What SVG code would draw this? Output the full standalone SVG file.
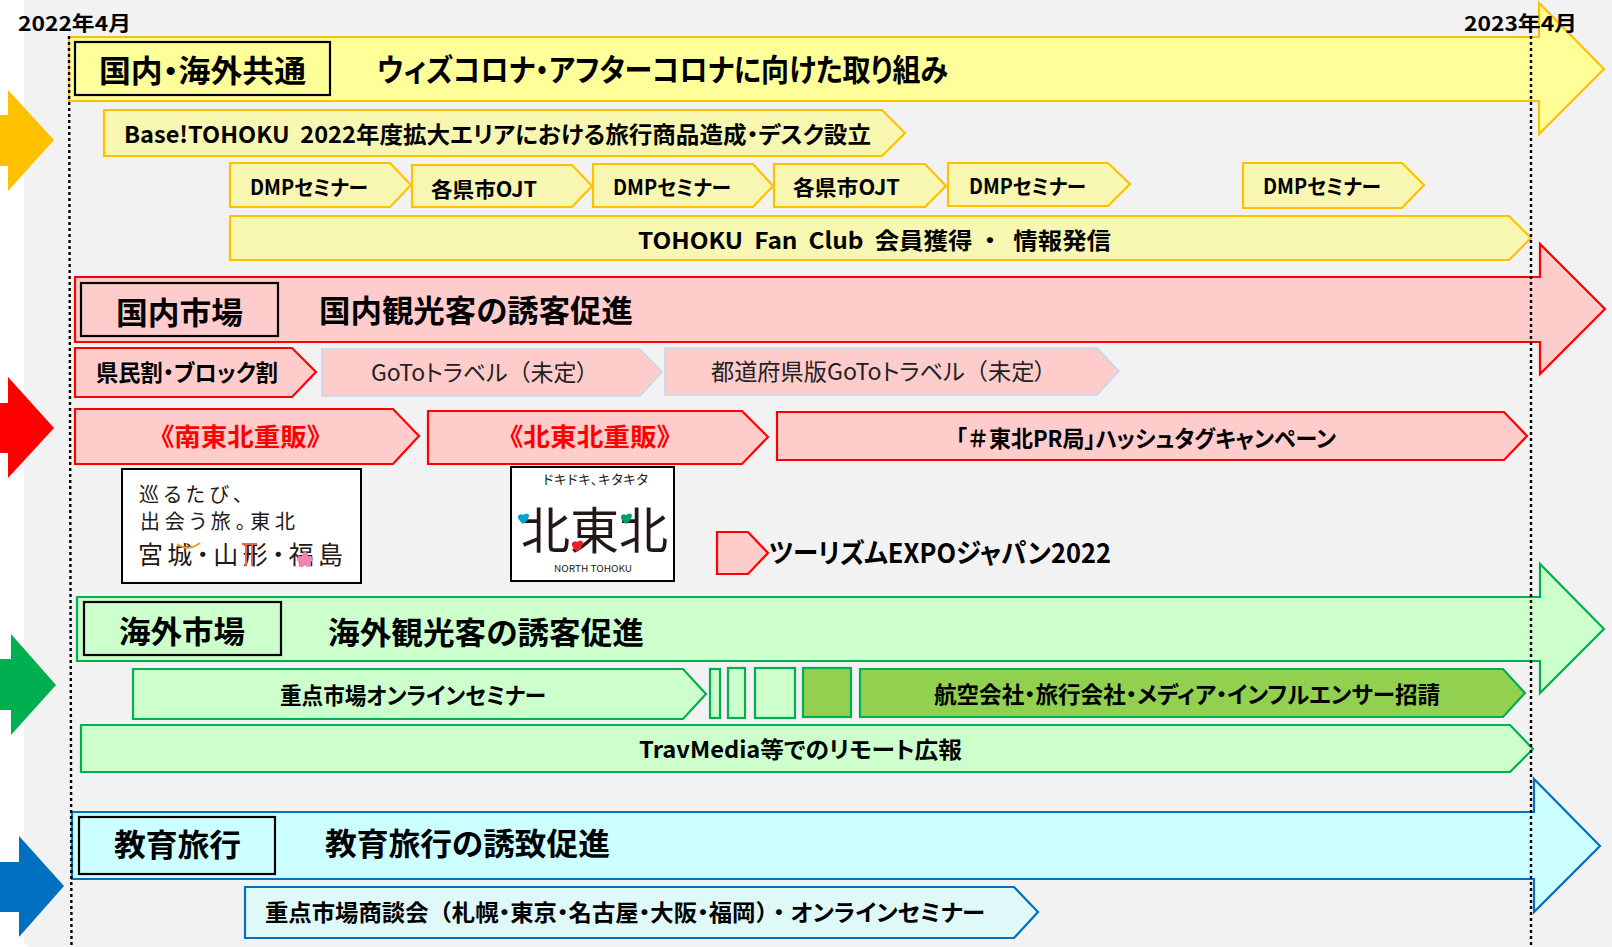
<svg xmlns="http://www.w3.org/2000/svg" width="1612" height="947" viewBox="0 0 1612 947">
<style>
text{font-family:"Noto Sans CJK JP","Noto Sans",sans-serif;fill:#000;font-weight:700;font-feature-settings:"palt"}
.fw{font-feature-settings:normal}
.h1{font-size:31px}.h2{font-size:23px}.h3{font-size:21px}.n{font-weight:400;fill:#222}
.r{fill:#f00;font-size:25px}
.y{fill:#ffff99;stroke:#ffc000;stroke-width:2.2}
.ys{fill:#f7f7b2;stroke:#ffc000;stroke-width:2.2}
.rd{fill:#ffcccc;stroke:#f00;stroke-width:2.2}
.rl{fill:#ffcccc;stroke:#c3d8ee;stroke-width:1.6}
.g{fill:#ccffcc;stroke:#00b050;stroke-width:2.2}
.gd{fill:#92d050;stroke:#00b050;stroke-width:2.2}
.b{fill:#ccffff;stroke:#0070c0;stroke-width:2.2}
.bs{fill:#dff9f9;stroke:#0070c0;stroke-width:2.2}
.lb{fill:none;stroke:#000;stroke-width:2.2}
.logo{fill:#fff;stroke:#000;stroke-width:2}
.lt{font-weight:400;fill:#231815}
.dot{fill:none;stroke:#000;stroke-width:2.4;stroke-dasharray:3 3}
</style>
<rect width="1612" height="947" fill="#fff"/>
<path d="M24 0H1612V947H32Q24 947 24 939Z" fill="#f2f2f2"/>

<g id="side-arrows">
<polygon points="0,115 8,115 8,90 54,140 8,191 8,166 0,166" fill="#ffc000"/>
<polygon points="0,403 8,403 8,377 54,428 8,478 8,453 0,453" fill="#f00"/>
<polygon points="0,659 11,659 11,634 56,685 11,735 11,710 0,710" fill="#00b050"/>
<polygon points="0,862 19,862 19,836 64,886 19,937 19,912 0,912" fill="#0070c0"/>
</g>

<g id="common">
<g id="common-main"><polygon class="y" points="69,37 1539,37 1539,3 1604,69 1539,134 1539,101 69,101"/>
<rect class="lb" x="75" y="42" width="255" height="53"/>
<text class="h1" x="99" y="82" textLength="207" lengthAdjust="spacingAndGlyphs">国内・海外共通</text>
<text class="h1" x="377" y="81" textLength="571" lengthAdjust="spacingAndGlyphs">ウィズコロナ・アフターコロナに向けた取り組み</text></g>
<g id="base"><polygon class="ys" points="104,110 882,110 905,133 882,156 104,156"/>
<text class="h2" x="124" y="143" textLength="747" lengthAdjust="spacingAndGlyphs">Base!TOHOKU&#160;&#160;2022年度拡大エリアにおける旅行商品造成・デスク設立</text></g>
<g id="dmp1"><polygon class="ys" points="230,163 390,163 411,185 390,207 230,207"/><text class="h3" x="250" y="195" textLength="118" lengthAdjust="spacingAndGlyphs">DMPセミナー</text></g>
<g id="ojt1"><polygon class="ys" points="412,165 572,165 592,186 572,207 412,207"/><text class="h3" x="431" y="197" textLength="106" lengthAdjust="spacingAndGlyphs">各県市OJT</text></g>
<g id="dmp2"><polygon class="ys" points="593,164 753,164 773,186 753,207 593,207"/><text class="h3" x="613" y="195" textLength="118" lengthAdjust="spacingAndGlyphs">DMPセミナー</text></g>
<g id="ojt2"><polygon class="ys" points="774,164 925,164 946,186 925,207 774,207"/><text class="h3" x="793" y="195" textLength="107" lengthAdjust="spacingAndGlyphs">各県市OJT</text></g>
<g id="dmp3"><polygon class="ys" points="948,163 1108,163 1130,184 1108,206 948,206"/><text class="h3" x="969" y="194" textLength="117" lengthAdjust="spacingAndGlyphs">DMPセミナー</text></g>
<g id="dmp4"><polygon class="ys" points="1243,163 1402,163 1424,185 1402,208 1243,208"/><text class="h3" x="1263" y="194" textLength="118" lengthAdjust="spacingAndGlyphs">DMPセミナー</text></g>
<g id="fanclub"><polygon class="ys" points="230,216 1509,216 1531,238 1509,260 230,260"/>
<text class="h2" x="638" y="249" textLength="473" lengthAdjust="spacingAndGlyphs">TOHOKU&#160;&#160;Fan&#160;&#160;Club&#160;&#160;会員獲得&#160;<tspan class="fw">・</tspan>&#160;&#160;情報発信</text></g>
</g>

<g id="domestic">
<g id="domestic-main"><polygon class="rd" points="75,277 1540,277 1540,244 1605,309 1540,374 1540,342 75,342"/>
<rect class="lb" x="81" y="283" width="197" height="53"/>
<text class="h1" x="116" y="324" textLength="127" lengthAdjust="spacingAndGlyphs">国内市場</text>
<text class="h1" x="319" y="322" textLength="314" lengthAdjust="spacingAndGlyphs">国内観光客の誘客促進</text></g>
<g id="kenmin"><polygon class="rd" points="75,348 292,348 316,372 292,397 75,397"/><text class="h2" x="96" y="381" textLength="182" lengthAdjust="spacingAndGlyphs">県民割・ブロック割</text></g>
<g id="goto1"><polygon class="rl" points="322,349 640,349 662,372 640,396 322,396"/><text class="h2 n" x="371" y="381" textLength="217" lengthAdjust="spacingAndGlyphs">GoToトラベル<tspan class="fw">（</tspan>未定）</text></g>
<g id="goto2"><polygon class="rl" points="665,348 1097,348 1119,371 1097,395 665,395"/><text class="h2 n" x="711" y="380" textLength="335" lengthAdjust="spacingAndGlyphs">都道府県版GoToトラベル<tspan class="fw">（</tspan>未定）</text></g>
<g id="minami"><polygon class="rd" points="75,409 393,409 419,436 393,464 75,464"/><text class="r" x="161" y="446" textLength="159" lengthAdjust="spacingAndGlyphs">《南東北重販》</text></g>
<g id="kita"><polygon class="rd" points="428,411 742,411 768,437 742,464 428,464"/><text class="r" x="510" y="446" textLength="160" lengthAdjust="spacingAndGlyphs">《北東北重販》</text></g>
<g id="hashtag"><polygon class="rd" points="777,412 1504,412 1527,436 1504,460 777,460"/><text class="h2" x="956" y="447" textLength="380" lengthAdjust="spacingAndGlyphs">「<tspan class="fw">＃</tspan>東北PR局」ハッシュタグキャンペーン</text></g>
<g id="logo-south"><rect class="logo" x="122" y="469" width="239" height="114"/>
<text class="lt" font-size="20" x="139" y="502" textLength="104">巡るたび、</text>
<text class="lt" font-size="20" x="140" y="529" textLength="155">出会う旅。東北</text>
<text class="lt" font-size="25" x="138" y="564" textLength="205">宮城・山形・福島</text>
<path d="M177 544Q188 552 200 543" fill="none" stroke="#f0a020" stroke-width="2"/>
<path d="M242 544H257M246 544V566M252 544V566" fill="none" stroke="#ea6a45" stroke-width="2"/>
<g fill="#ef85b0"><circle cx="305" cy="555" r="3"/><circle cx="300" cy="559" r="3"/><circle cx="310" cy="559" r="3"/><circle cx="302" cy="564" r="3"/><circle cx="308" cy="564" r="3"/><circle cx="305" cy="560" r="3"/></g></g>
<g id="logo-north"><rect class="logo" x="511" y="467" width="163" height="114"/>
<text class="lt" font-size="13" x="543" y="484" textLength="105">ドキドキ、キタキタ</text>
<text class="lt" font-size="50" x="521" y="549" textLength="147" lengthAdjust="spacingAndGlyphs">北東北</text>
<path d="M523 524q-6-5-5-8q2-3 5-1q4-3 6 0q0 5-6 9Z" fill="#00a3d0"/>
<path d="M626 524q-6-5-5-8q2-3 5-1q4-3 6 0q0 5-6 9Z" fill="#00a06a"/>
<path d="M577 552q-6-5-5-9q3-3 5-1q4-3 6 0q0 6-6 10Z" fill="#e8202a"/>
<text class="lt" font-size="9.500" x="554" y="572" textLength="78" lengthAdjust="spacingAndGlyphs">NORTH TOHOKU</text></g>
<g id="expo"><polygon class="rd" points="717,532 748,532 768,553 748,574 717,574"/><text x="769" y="563" font-size="27" textLength="342" lengthAdjust="spacingAndGlyphs">ツーリズムEXPOジャパン2022</text></g>
</g>

<g id="overseas">
<g id="overseas-main"><polygon class="g" points="77,597 1540,597 1540,564 1604,629 1540,693 1540,661 77,661"/>
<rect class="lb" x="84" y="602" width="197" height="53"/>
<text class="h1" x="119" y="643" textLength="126" lengthAdjust="spacingAndGlyphs">海外市場</text>
<text class="h1" x="328" y="644" textLength="316" lengthAdjust="spacingAndGlyphs">海外観光客の誘客促進</text></g>
<g id="seminar"><polygon class="g" points="133,669 683,669 706,694 683,719 133,719"/><text class="h2" x="280" y="704" textLength="266" lengthAdjust="spacingAndGlyphs">重点市場オンラインセミナー</text></g>
<g id="bar1"><rect class="g" x="710" y="669" width="10" height="49"/></g>
<g id="bar2"><rect class="g" x="728" y="668" width="17" height="50"/></g>
<g id="bar3"><rect class="g" x="755" y="668" width="40" height="50"/></g>
<g id="bar4"><rect class="gd" x="803" y="668" width="48" height="49"/></g>
<g id="invite"><polygon class="gd" points="860,669 1503,669 1525,693 1503,717 860,717"/><text class="h2" x="934" y="703" textLength="506" lengthAdjust="spacingAndGlyphs">航空会社・旅行会社・メディア・インフルエンサー招請</text></g>
<g id="travmedia"><polygon class="g" points="81,725 1510,725 1533,749 1510,772 81,772"/><text class="h2" x="639" y="758" textLength="323" lengthAdjust="spacingAndGlyphs">TravMedia等でのリモート広報</text></g>
</g>

<g id="school">
<g id="school-main"><polygon class="b" points="72,812 1534,812 1534,779 1600,846 1534,912 1534,879 72,879"/>
<rect class="lb" x="79" y="817" width="196" height="57"/>
<text class="h1" x="114" y="856" textLength="127" lengthAdjust="spacingAndGlyphs">教育旅行</text>
<text class="h1" x="325" y="855" textLength="285" lengthAdjust="spacingAndGlyphs">教育旅行の誘致促進</text></g>
<g id="meetings"><polygon class="bs" points="245,887 1014,887 1038,912 1014,938 245,938"/><text class="h2" x="265" y="921" textLength="720" lengthAdjust="spacingAndGlyphs">重点市場商談会<tspan class="fw">（</tspan>札幌・東京・名古屋・大阪・福岡<tspan class="fw">）・</tspan>オンラインセミナー</text></g>
</g>

<g id="timeline">
<path class="dot" d="M69 36L71.500 947"/>
<path class="dot" d="M1531 36V947"/>
<text font-size="20" x="18" y="31" textLength="113" lengthAdjust="spacingAndGlyphs">2022年4月</text>
<text font-size="20" x="1464" y="31" textLength="113" lengthAdjust="spacingAndGlyphs">2023年4月</text>
</g>
</svg>
